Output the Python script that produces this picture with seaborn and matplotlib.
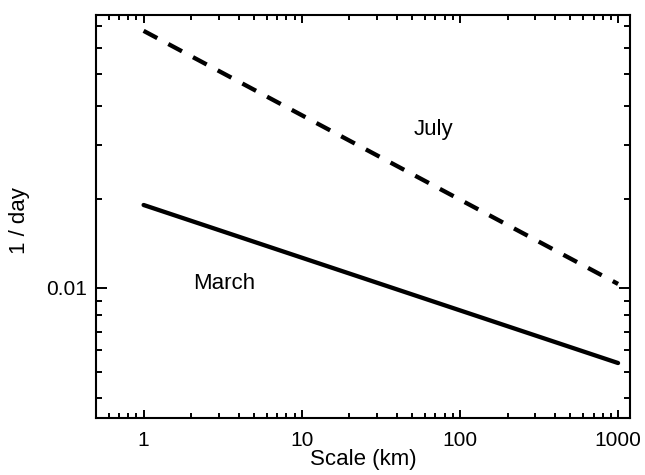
import numpy as np
import pandas as pd
import matplotlib
matplotlib.use("Agg")
import matplotlib.pyplot as plt
from matplotlib.ticker import FixedLocator, FixedFormatter, NullFormatter
import seaborn as sns

# ---- data ----
scale_km = [1, 1000]
july = [0.0678, 0.01032]
march = [0.01915, 0.00538]
months = ["July", "March"]

x_ticks = [1, 10, 100, 1000]
x_tick_labels = ["1", "10", "100", "1000"]
x_minor = [0.6, 0.7, 0.8, 0.9] + [m * d for d in (1, 10, 100) for m in range(2, 10)]
y_ticks = [0.01]
y_tick_labels = ["0.01"]
y_minor = [0.004, 0.005, 0.006, 0.007, 0.008, 0.009,
           0.02, 0.03, 0.04, 0.05, 0.06, 0.07]

df = pd.DataFrame({
    "scale": scale_km * 2,
    "rate": july + march,
    "month": [months[0]] * 2 + [months[1]] * 2,
})

sns.set_style("ticks")
plt.rcParams["font.family"] = ["Liberation Sans", "DejaVu Sans"]
plt.rcParams.update({
    "text.color": "black", "axes.labelcolor": "black",
    "xtick.color": "black", "ytick.color": "black",
    "axes.edgecolor": "black",
})

fig = plt.figure(figsize=(6.45, 4.75), dpi=100)
ax = fig.add_axes([96 / 645, 1 - 418 / 475, 534 / 645, 403 / 475])

sns.lineplot(data=df, x="scale", y="rate", style="month",
             dashes={"July": (3.6, 2.9), "March": ""},
             color="black", linewidth=3.1, legend=False, ax=ax)

ax.set_xscale("log")
P = 0.08
ax.set_yscale("function",
              functions=(lambda v: np.power(np.clip(v, 1e-12, None), P),
                         lambda u: np.power(np.clip(u, 1e-12, None), 1 / P)))
ax.set_xlim(0.5, 1190)
ax.set_ylim(0.00335, 0.0756)

ax.xaxis.set_major_locator(FixedLocator(x_ticks))
ax.xaxis.set_major_formatter(FixedFormatter(x_tick_labels))
ax.xaxis.set_minor_locator(FixedLocator(x_minor))
ax.xaxis.set_minor_formatter(NullFormatter())
ax.yaxis.set_major_locator(FixedLocator(y_ticks))
ax.yaxis.set_major_formatter(FixedFormatter(y_tick_labels))
ax.yaxis.set_minor_locator(FixedLocator(y_minor))
ax.yaxis.set_minor_formatter(NullFormatter())

for s in ax.spines.values():
    s.set_linewidth(1.5)
    s.set_visible(True)
    s.set_color("black")

ax.tick_params(axis="both", which="both", direction="in", width=1.4,
               top=True, right=True, colors="black", labelcolor="black",
               labelsize=15)
ax.tick_params(axis="x", which="major", length=5.8, pad=9)
ax.tick_params(axis="x", which="minor", length=3.4)
ax.tick_params(axis="y", which="major", length=7.9, pad=6.5)
ax.tick_params(axis="y", which="minor", length=4)

ax.set_xlabel("Scale (km)", fontsize=16, labelpad=0, color="black")
ax.set_ylabel("1 / day", fontsize=16, color="black")
ax.yaxis.set_label_coords(-0.124, 0.489)

ax.text(0.594, 0.703, months[0], transform=ax.transAxes, fontsize=16,
        ha="left", va="baseline", color="black")
ax.text(0.181, 0.320, months[1], transform=ax.transAxes, fontsize=16,
        ha="left", va="baseline", color="black")

fig.savefig("out.png", dpi=100)
